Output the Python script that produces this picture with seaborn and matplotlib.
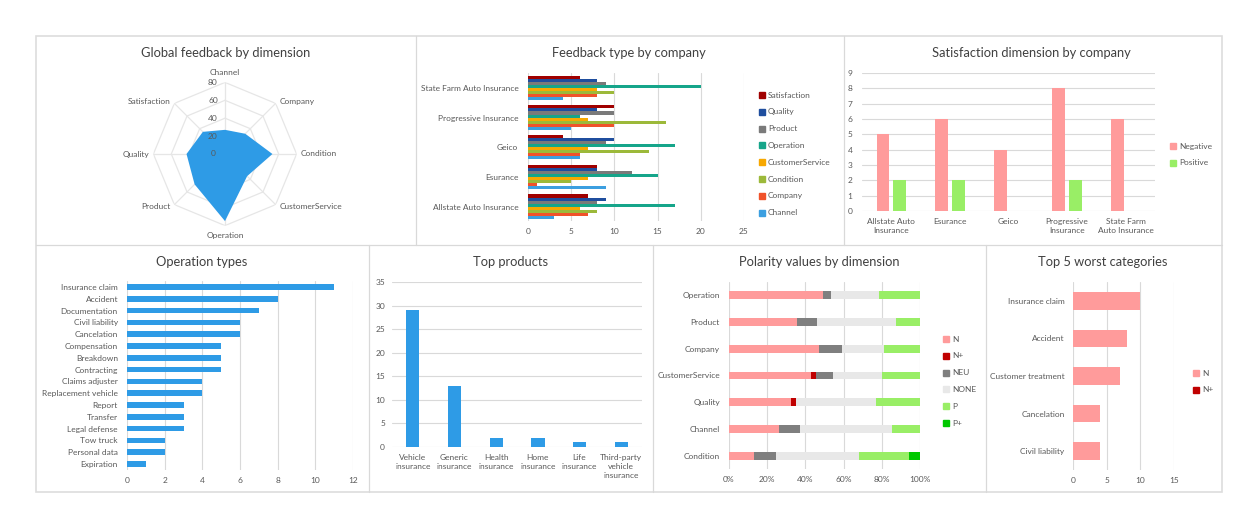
import numpy as np
import pandas as pd
import matplotlib
matplotlib.use('Agg')
import matplotlib.pyplot as plt
import seaborn as sns
from matplotlib.lines import Line2D
from matplotlib.patches import Rectangle

# ---------------- data ----------------
dimensions = ['Channel', 'Company', 'Condition', 'CustomerService',
              'Operation', 'Product', 'Quality', 'Satisfaction']
global_feedback = [27, 32, 53, 35, 75, 48, 43, 35]
radar_ticks = [0, 20, 40, 60, 80]

companies = ['Allstate Auto Insurance', 'Esurance', 'Geico',
             'Progressive Insurance', 'State Farm Auto Insurance']
feedback_types = ['Satisfaction', 'Quality', 'Product', 'Operation',
                  'CustomerService', 'Condition', 'Company', 'Channel']
fb_satisfaction = [7, 8, 4, 10, 6]
fb_quality = [9, 8, 10, 8, 8]
fb_product = [8, 12, 9, 10, 9]
fb_operation = [17, 15, 17, 6, 20]
fb_customerservice = [6, 7, 7, 7, 8]
fb_condition = [8, 5, 14, 16, 10]
fb_company = [7, 1, 6, 10, 8]
fb_channel = [3, 9, 6, 5, 4]

sat_labels = ['Allstate Auto\nInsurance', 'Esurance', 'Geico',
              'Progressive\nInsurance', 'State Farm\nAuto Insurance']
sat_negative = [5, 6, 4, 8, 6]
sat_positive = [2, 2, 0, 2, 0]

op_types = ['Insurance claim', 'Accident', 'Documentation', 'Civil liability',
            'Cancelation', 'Compensation', 'Breakdown', 'Contracting',
            'Claims adjuster', 'Replacement vehicle', 'Report', 'Transfer',
            'Legal defense', 'Tow truck', 'Personal data', 'Expiration']
op_counts = [11, 8, 7, 6, 6, 5, 5, 5, 4, 4, 3, 3, 3, 2, 2, 1]

products = ['Vehicle\ninsurance', 'Generic\ninsurance', 'Health\ninsurance',
            'Home\ninsurance', 'Life\ninsurance', 'Third-party\nvehicle\ninsurance']
product_counts = [29, 13, 2, 2, 1, 1]

pol_dims = ['Operation', 'Product', 'Company', 'CustomerService',
            'Quality', 'Channel', 'Condition']
pol_cats = ['N', 'N+', 'NEU', 'NONE', 'P', 'P+']
pol_n = [37, 17, 15, 15, 14, 7, 7]
pol_nplus = [0, 0, 0, 1, 1, 0, 0]
pol_neu = [3, 5, 4, 3, 0, 3, 6]
pol_none = [19, 20, 7, 9, 18, 13, 23]
pol_p = [16, 6, 6, 7, 10, 4, 14]
pol_pplus = [0, 0, 0, 0, 0, 0, 3]

worst_cats = ['Insurance claim', 'Accident', 'Customer treatment',
              'Cancelation', 'Civil liability']
worst_n = [10, 8, 7, 4, 4]
worst_nplus = [0, 0, 0, 0, 0]

# ---------------- style ----------------
sns.set_theme(style='white')
plt.rcParams['font.family'] = ['Lato', 'DejaVu Sans']

BLUE = '#2E9BE6'
GRID = '#D9D9D9'
TICK = '#595959'
TITLE = '#404040'
TFS = 9.3
FS = 6.0
fb_colors = ['#A00000', '#1F4E9E', '#7A7A7A', '#16A58A',
             '#F7A800', '#9CB93A', '#F0522A', '#3C9FE0']
neg_col, pos_col = '#FF9B9B', '#99EE66'
pol_colors = ['#FF9B9B', '#C00000', '#7F7F7F', '#E8E8E8', '#99EE66', '#00C800']

W, H = 1258, 528
fig = plt.figure(figsize=(W / 100, H / 100), dpi=100)
fig.patch.set_facecolor('white')


def px_axes(x0, y0, x1, y1, **kw):
    return fig.add_axes([x0 / W, 1 - y1 / H, (x1 - x0) / W, (y1 - y0) / H], **kw)


def fx(x):
    return x / W


def fy(y):
    return 1 - y / H


def fig_line(x0, y0, x1, y1, color=GRID, lw=0.9):
    fig.add_artist(Line2D([fx(x0), fx(x1)], [fy(y0), fy(y1)], color=color, lw=lw,
                          transform=fig.transFigure))


def title(x, y, s):
    fig.text(fx(x), fy(y), s, ha='center', va='center', fontsize=TFS, color=TITLE)


def legend_px(labels, colors, x, y0, dy):
    for i, (lab, col) in enumerate(zip(labels, colors)):
        y = y0 + i * dy
        fig.add_artist(Line2D([fx(x)], [fy(y)], marker='s', markersize=4.0,
                              color=col, linestyle='none', transform=fig.transFigure))
        fig.text(fx(x + 6), fy(y), lab, ha='left', va='center', fontsize=FS, color=TICK)


def excel_axes(ax, grid_axis):
    for s in ax.spines.values():
        s.set_visible(False)
    ax.set_facecolor('none')
    ax.grid(True, axis=grid_axis, color=GRID, lw=0.8)
    ax.grid(False, axis='y' if grid_axis == 'x' else 'x')
    ax.set_axisbelow(True)
    ax.tick_params(axis='both', length=0, labelsize=FS, labelcolor=TICK)
    ax.set_xlabel('')
    ax.set_ylabel('')


# ---------------- frames ----------------
fig.add_artist(Rectangle((fx(36), fy(492)), fx(1222) - fx(36), fy(36) - fy(492),
                         fill=False, edgecolor='#DDDDDD', lw=1.2, transform=fig.transFigure))
fig_line(36, 244.5, 1222, 244.5)
fig_line(415.5, 36, 415.5, 244.5)
fig_line(843.5, 36, 843.5, 244.5)
fig_line(368.5, 244.5, 368.5, 492)
fig_line(652.5, 244.5, 652.5, 492)
fig_line(985.5, 244.5, 985.5, 492)

# ---------------- 1. radar ----------------
cx, cy, R = 225, 154, 71.6
ax1 = px_axes(cx - R, cy - R, cx + R, cy + R, projection='polar')
ax1.set_theta_zero_location('N')
ax1.set_theta_direction(-1)
ax1.set_ylim(0, 80)
ax1.grid(False)
ax1.spines['polar'].set_visible(False)
ax1.set_xticks([])
ax1.set_yticks([])
ax1.patch.set_alpha(0)
angles = np.linspace(0, 2 * np.pi, len(dimensions), endpoint=False)


def straight_polar(thetas, rs, n=40):
    thetas = list(thetas) + [thetas[0]]
    rs = list(rs) + [rs[0]]
    xs = [r * np.sin(t) for t, r in zip(thetas, rs)]
    ys = [r * np.cos(t) for t, r in zip(thetas, rs)]
    X, Y = [], []
    for i in range(len(xs) - 1):
        f = np.linspace(0, 1, n, endpoint=False)
        X.extend(xs[i] + (xs[i + 1] - xs[i]) * f)
        Y.extend(ys[i] + (ys[i + 1] - ys[i]) * f)
    X.append(xs[0]); Y.append(ys[0])
    X, Y = np.array(X), np.array(Y)
    return np.arctan2(X, Y), np.hypot(X, Y)


for r in radar_ticks[1:]:
    t, rr = straight_polar(angles, [r] * len(angles))
    ax1.plot(t, rr, color='#E6E6E6', lw=0.9)
for a in angles:
    ax1.plot([a, a], [0, 80], color='#E6E6E6', lw=0.9)
t, rr = straight_polar(angles, global_feedback)
ax1.fill(t, rr, color=BLUE, lw=0, zorder=3)
for v in radar_ticks:
    ax1.annotate(str(v), xy=(0, v), xytext=(-12 * 0.72, 0), textcoords='offset points',
                 ha='center', va='center', fontsize=FS, color=TICK, zorder=4)
for a, lab in zip(angles, dimensions):
    s, c = np.sin(a), np.cos(a)
    if abs(s) < 0.1:
        off = (0, 9.5 * c)
        ha = 'center'
    else:
        off = (4 * np.sign(s), 2 * c)
        ha = 'left' if s > 0 else 'right'
    ax1.annotate(lab, xy=(a, 80), xytext=(off[0] * 0.72, off[1] * 0.72),
                 textcoords='offset points', ha=ha, va='center', fontsize=FS, color=TICK)
title(226, 53, 'Global feedback by dimension')

# ---------------- 2. feedback type by company ----------------
fb_values = [fb_satisfaction, fb_quality, fb_product, fb_operation,
             fb_customerservice, fb_condition, fb_company, fb_channel]
df_fb = pd.DataFrame({
    'company': companies * len(feedback_types),
    'type': np.repeat(feedback_types, len(companies)),
    'value': np.concatenate(fb_values),
})
ax2 = px_axes(528, 73, 744, 221.5)
sns.barplot(data=df_fb, y='company', x='value', hue='type', order=companies[::-1],
            hue_order=feedback_types, palette=fb_colors, orient='h', width=0.82,
            saturation=1, linewidth=0, errorbar=None, legend=False, ax=ax2)
ax2.set_xlim(0, 25)
ax2.set_xticks([0, 5, 10, 15, 20, 25])
excel_axes(ax2, 'x')
ax2.tick_params(axis='y', pad=7)
ax2.tick_params(axis='x', pad=5)
legend_px(feedback_types, fb_colors, 762, 95, 16.8)
title(629, 53, 'Feedback type by company')

# ---------------- 3. satisfaction by company ----------------
df_sat = pd.DataFrame({
    'company': sat_labels * 2,
    'polarity': ['Negative'] * 5 + ['Positive'] * 5,
    'value': sat_negative + sat_positive,
})
ax3 = px_axes(862, 73, 1155, 211)
sns.barplot(data=df_sat, x='company', y='value', hue='polarity',
            palette=[neg_col, pos_col], width=0.566, gap=0.22, saturation=1,
            linewidth=0, errorbar=None, legend=False, ax=ax3)
ax3.set_ylim(0, 9)
ax3.set_yticks(range(10))
excel_axes(ax3, 'y')
ax3.set_xticks(range(len(sat_labels)), sat_labels, linespacing=1.3)
ax3.tick_params(axis='y', pad=7)
ax3.tick_params(axis='x', pad=5)
legend_px(['Negative', 'Positive'], [neg_col, pos_col], 1173, 146, 16.5)
title(1031, 53, 'Satisfaction dimension by company')

# ---------------- 4. operation types ----------------
ax4 = px_axes(127, 281, 353, 470)
sns.barplot(x=op_counts, y=op_types, color=BLUE, orient='h', width=0.48,
            saturation=1, linewidth=0, errorbar=None, ax=ax4)
ax4.set_xlim(0, 12)
ax4.set_xticks(range(0, 13, 2))
excel_axes(ax4, 'x')
ax4.tick_params(axis='y', pad=6.5)
ax4.tick_params(axis='x', pad=5)
title(202, 262, 'Operation types')

# ---------------- 5. top products ----------------
ax5 = px_axes(392, 282, 642, 447)
sns.barplot(x=products, y=product_counts, color=BLUE, width=0.32,
            saturation=1, linewidth=0, errorbar=None, ax=ax5)
ax5.set_ylim(0, 35)
ax5.set_yticks(range(0, 36, 5))
excel_axes(ax5, 'y')
ax5.set_xticks(range(len(products)), products, linespacing=1.3)
ax5.tick_params(axis='y', pad=5)
ax5.tick_params(axis='x', pad=5)
title(511, 262, 'Top products')

# ---------------- 6. polarity by dimension ----------------
df_pol = pd.DataFrame({'N': pol_n, 'N+': pol_nplus, 'NEU': pol_neu,
                       'NONE': pol_none, 'P': pol_p, 'P+': pol_pplus}, index=pol_dims)
pol_cum = df_pol.cumsum(axis=1).div(df_pol.sum(axis=1), axis=0) * 100
ax6 = px_axes(729, 282, 920, 469)
for cat, col in reversed(list(zip(pol_cats, pol_colors))):
    sns.barplot(x=pol_cum[cat].values, y=pol_dims, color=col, orient='h', width=0.29,
                saturation=1, linewidth=0, errorbar=None, ax=ax6)
ax6.set_xlim(0, 100)
ax6.set_xticks(range(0, 101, 20))
ax6.set_xticklabels([f'{v}%' for v in range(0, 101, 20)])
excel_axes(ax6, 'x')
ax6.tick_params(axis='y', pad=6.5)
ax6.tick_params(axis='x', pad=5)
legend_px(pol_cats, pol_colors, 946, 339, 16.8)
title(819, 262, 'Polarity values by dimension')

# ---------------- 7. top 5 worst ----------------
ax7 = px_axes(1073, 282, 1174, 470)
worst_cum_nplus = np.array(worst_n) + np.array(worst_nplus)
sns.barplot(x=worst_cum_nplus, y=worst_cats, color='#C00000', orient='h', width=0.47,
            saturation=1, linewidth=0, errorbar=None, ax=ax7)
sns.barplot(x=worst_n, y=worst_cats, color=neg_col, orient='h', width=0.47,
            saturation=1, linewidth=0, errorbar=None, ax=ax7)
ax7.set_xlim(0, 15)
ax7.set_xticks([0, 5, 10, 15])
excel_axes(ax7, 'x')
ax7.tick_params(axis='y', pad=6)
ax7.tick_params(axis='x', pad=5)
legend_px(['N', 'N+'], [neg_col, '#C00000'], 1196, 373, 17)
title(1103, 262, 'Top 5 worst categories')

fig.savefig('out.png', dpi=100, facecolor='white')
